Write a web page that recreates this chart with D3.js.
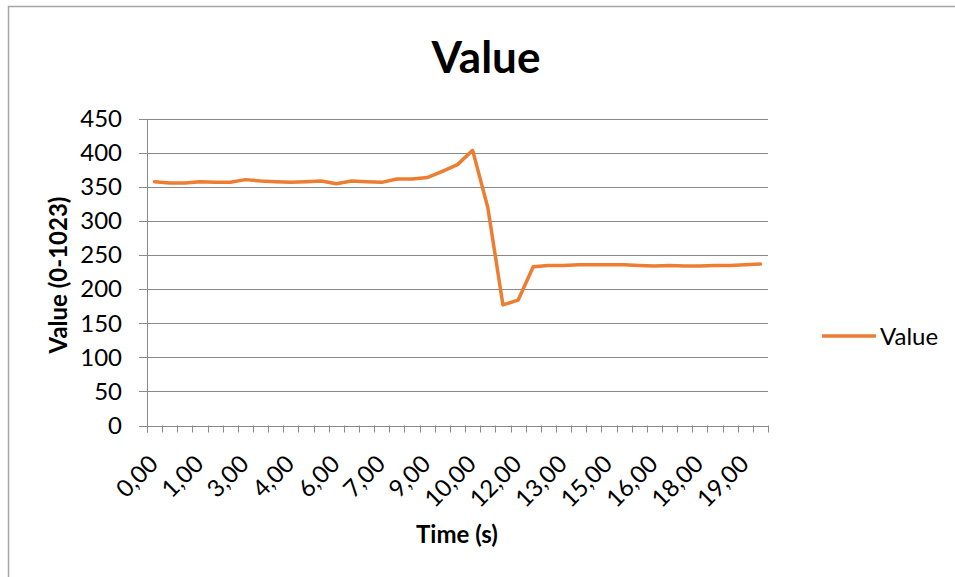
<!DOCTYPE html>
<html>
<head>
<meta charset="utf-8">
<script src="https://cdn.jsdelivr.net/npm/d3@7"></script>
<style>
  body { margin: 0; background: #fff; }
  svg { display: block; font-family: Lato, "Open Sans", sans-serif; }
</style>
</head>
<body>
<svg id="chart" width="955" height="577"></svg>
<script>
// Sample times in seconds (one sample every half second, stored as whole seconds)
const times = [0,0,1,1,2,2,3,3,4,4,5,5,6,6,7,7,8,8,9,9,10,10,11,11,12,12,13,13,14,14,15,15,16,16,17,17,18,18,19,19,20];
// Sensor reading (0-1023) for each sample
const values = [358,356,356,358,357,357,361,359,358,357,358,359,355,359,358,357,362,362,364,373,383,404,320,177,184,233,235,235,236,236,236,236,235,234,235,234,234,235,235,236,237];
const yTicks = [0,50,100,150,200,250,300,350,400,450];
const seriesName = "Value";
const chartTitle = "Value";
const xTitle = "Time (s)";
const yTitle = "Value (0-1023)";

const svg = d3.select("#chart");
const lineColor = "#ED7D31";
const gridColor = "#898989";

const plot = { left: 147, right: 768, top: 119, bottom: 425.5 };

// outer chart frame
svg.append("rect")
  .attr("x", 8.5).attr("y", 6.5)
  .attr("width", 960).attr("height", 600)
  .attr("fill", "#fff").attr("stroke", "#a6a6a6").attr("stroke-width", 1.5);

const x = d3.scaleBand()
  .domain(d3.range(values.length))
  .range([plot.left, plot.right])
  .paddingInner(0).paddingOuter(0);

const y = d3.scaleLinear()
  .domain([0, d3.max(yTicks)])
  .range([plot.bottom, plot.top]);

// horizontal gridlines with short outward ticks
svg.append("g").selectAll("line")
  .data(yTicks)
  .join("line")
  .attr("x1", plot.left - 8).attr("x2", plot.right)
  .attr("y1", d => Math.round(y(d)) + 0.5).attr("y2", d => Math.round(y(d)) + 0.5)
  .attr("stroke", gridColor).attr("stroke-width", 1);

// y axis line
svg.append("line")
  .attr("x1", plot.left + 0.5).attr("x2", plot.left + 0.5)
  .attr("y1", plot.top).attr("y2", plot.bottom + 7)
  .attr("stroke", gridColor).attr("stroke-width", 1);

// y tick labels
const yAxis = d3.axisLeft(y).tickValues(yTicks).tickSize(0).tickPadding(0);
const gy = svg.append("g").attr("transform", `translate(${plot.left - 25},0)`).call(yAxis);
gy.select(".domain").remove();
gy.selectAll("text")
  .attr("font-family", "Lato, 'Open Sans', sans-serif")
  .attr("font-size", 24).attr("fill", "#000");

// category boundary tick marks on the x axis
const boundaries = d3.range(values.length + 1).map(i => i < values.length ? x(i) : plot.right);
svg.append("g").selectAll("line")
  .data(boundaries)
  .join("line")
  .attr("x1", d => Math.round(d) + 0.5).attr("x2", d => Math.round(d) + 0.5)
  .attr("y1", plot.bottom).attr("y2", plot.bottom + 7)
  .attr("stroke", gridColor).attr("stroke-width", 1);

// x tick labels: every third sample, rotated
const fmt = v => d3.format(".2f")(v).replace(".", ",");
const xAxis = d3.axisBottom(x)
  .tickValues(d3.range(0, values.length, 3))
  .tickFormat(i => fmt(times[i]))
  .tickSize(0).tickPadding(0);
const gx = svg.append("g").attr("transform", `translate(0,${plot.bottom})`).call(xAxis);
gx.select(".domain").remove();
gx.selectAll("text")
  .attr("font-family", "Lato, 'Open Sans', sans-serif")
  .attr("font-size", 24).attr("fill", "#000")
  .attr("text-anchor", "end")
  .attr("dy", null)
  .attr("transform", "translate(5,40) rotate(-45)");

// data line
const line = d3.line()
  .x((d, i) => x(i) + x.bandwidth() / 2)
  .y(d => y(d));
svg.append("path")
  .datum(values)
  .attr("d", line)
  .attr("fill", "none")
  .attr("stroke", lineColor)
  .attr("stroke-width", 3.5)
  .attr("stroke-linejoin", "round")
  .attr("stroke-linecap", "round");

// titles
svg.append("text")
  .attr("x", 486).attr("y", 73)
  .attr("text-anchor", "middle")
  .attr("font-size", 44).attr("font-weight", "bold")
  .text(chartTitle);

svg.append("text")
  .attr("x", 457).attr("y", 543)
  .attr("text-anchor", "middle")
  .attr("font-size", 24).attr("font-weight", "bold")
  .text(xTitle);

svg.append("text")
  .attr("transform", "translate(67,275) rotate(-90)")
  .attr("text-anchor", "middle")
  .attr("font-size", 24).attr("font-weight", "bold")
  .text(yTitle);

// legend
const legend = svg.append("g").attr("transform", "translate(822,336)");
legend.append("line")
  .attr("x1", 0).attr("x2", 54).attr("y1", 0).attr("y2", 0)
  .attr("stroke", lineColor).attr("stroke-width", 3.5);
legend.append("text")
  .attr("x", 58).attr("y", 8.5)
  .attr("font-size", 24)
  .text(seriesName);
</script>
</body>
</html>
